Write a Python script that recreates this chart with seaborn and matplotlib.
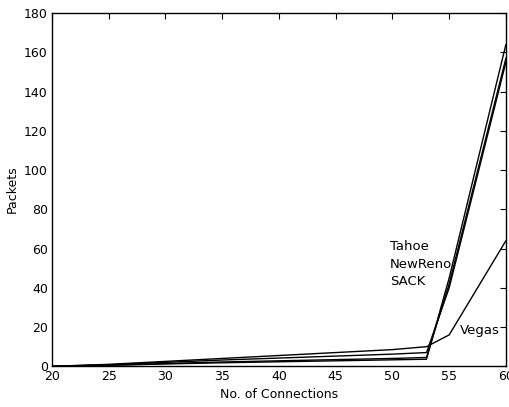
import numpy as np
import pandas as pd
import matplotlib
matplotlib.use("Agg")
import matplotlib.pyplot as plt
import seaborn as sns

connections = [20, 25, 30, 35, 40, 45, 50, 53, 55, 60]
tahoe = [0, 0.5, 1.2, 1.8, 2.3, 2.8, 3.3, 3.6, 45, 164]
newreno = [0, 0.6, 1.4, 2.2, 2.8, 3.4, 4.0, 4.5, 42, 157]
sack = [0, 0.8, 2.0, 3.2, 4.2, 5.2, 6.2, 7.0, 40, 155]
vegas = [0, 1.0, 2.5, 4.0, 5.5, 7.0, 8.5, 10.0, 16, 64]
series_names = ["Tahoe", "NewReno", "SACK", "Vegas"]
x_ticks = [20, 25, 30, 35, 40, 45, 50, 55, 60]
y_ticks = [0, 20, 40, 60, 80, 100, 120, 140, 160, 180]

rows = []
for name, vals in zip(series_names, [tahoe, newreno, sack, vegas]):
    for xv, yv in zip(connections, vals):
        rows.append({"Connections": xv, "Packets": yv, "Protocol": name})
df = pd.DataFrame(rows)

sns.set_theme(style="white")
plt.rcParams['font.family'] = ['DejaVu Sans']
plt.rcParams['text.color'] = 'black'
plt.rcParams['axes.labelcolor'] = 'black'

fig = plt.figure(figsize=(5.10, 4.07), dpi=100)
ax = fig.add_axes([0.102, 0.100, 0.890, 0.868])

sns.lineplot(data=df, x="Connections", y="Packets", units="Protocol",
             estimator=None, color="black", linewidth=1.0, ax=ax, legend=False)

ax.set_xlim(20, 60)
ax.set_ylim(0, 180)
ax.set_xticks(x_ticks)
ax.set_yticks(y_ticks)
ax.tick_params(direction="in", length=4, width=0.8, labelsize=9, colors="black",
               top=True, right=True, pad=3)
for s in ax.spines.values():
    s.set_color("black")
    s.set_linewidth(1.0)
ax.set_xlabel("No. of Connections", fontsize=9, labelpad=3, color="black")
ax.set_ylabel("Packets", fontsize=9, labelpad=4, color="black")

ax.text(49.8, 61, "Tahoe", fontsize=9.5, va="center", ha="left", color="black")
ax.text(49.8, 52, "NewReno", fontsize=9.5, va="center", ha="left", color="black")
ax.text(49.8, 43, "SACK", fontsize=9.5, va="center", ha="left", color="black")
ax.text(55.9, 18.4, "Vegas", fontsize=9.5, va="center", ha="left", color="black")

fig.savefig("out.png", dpi=100)
